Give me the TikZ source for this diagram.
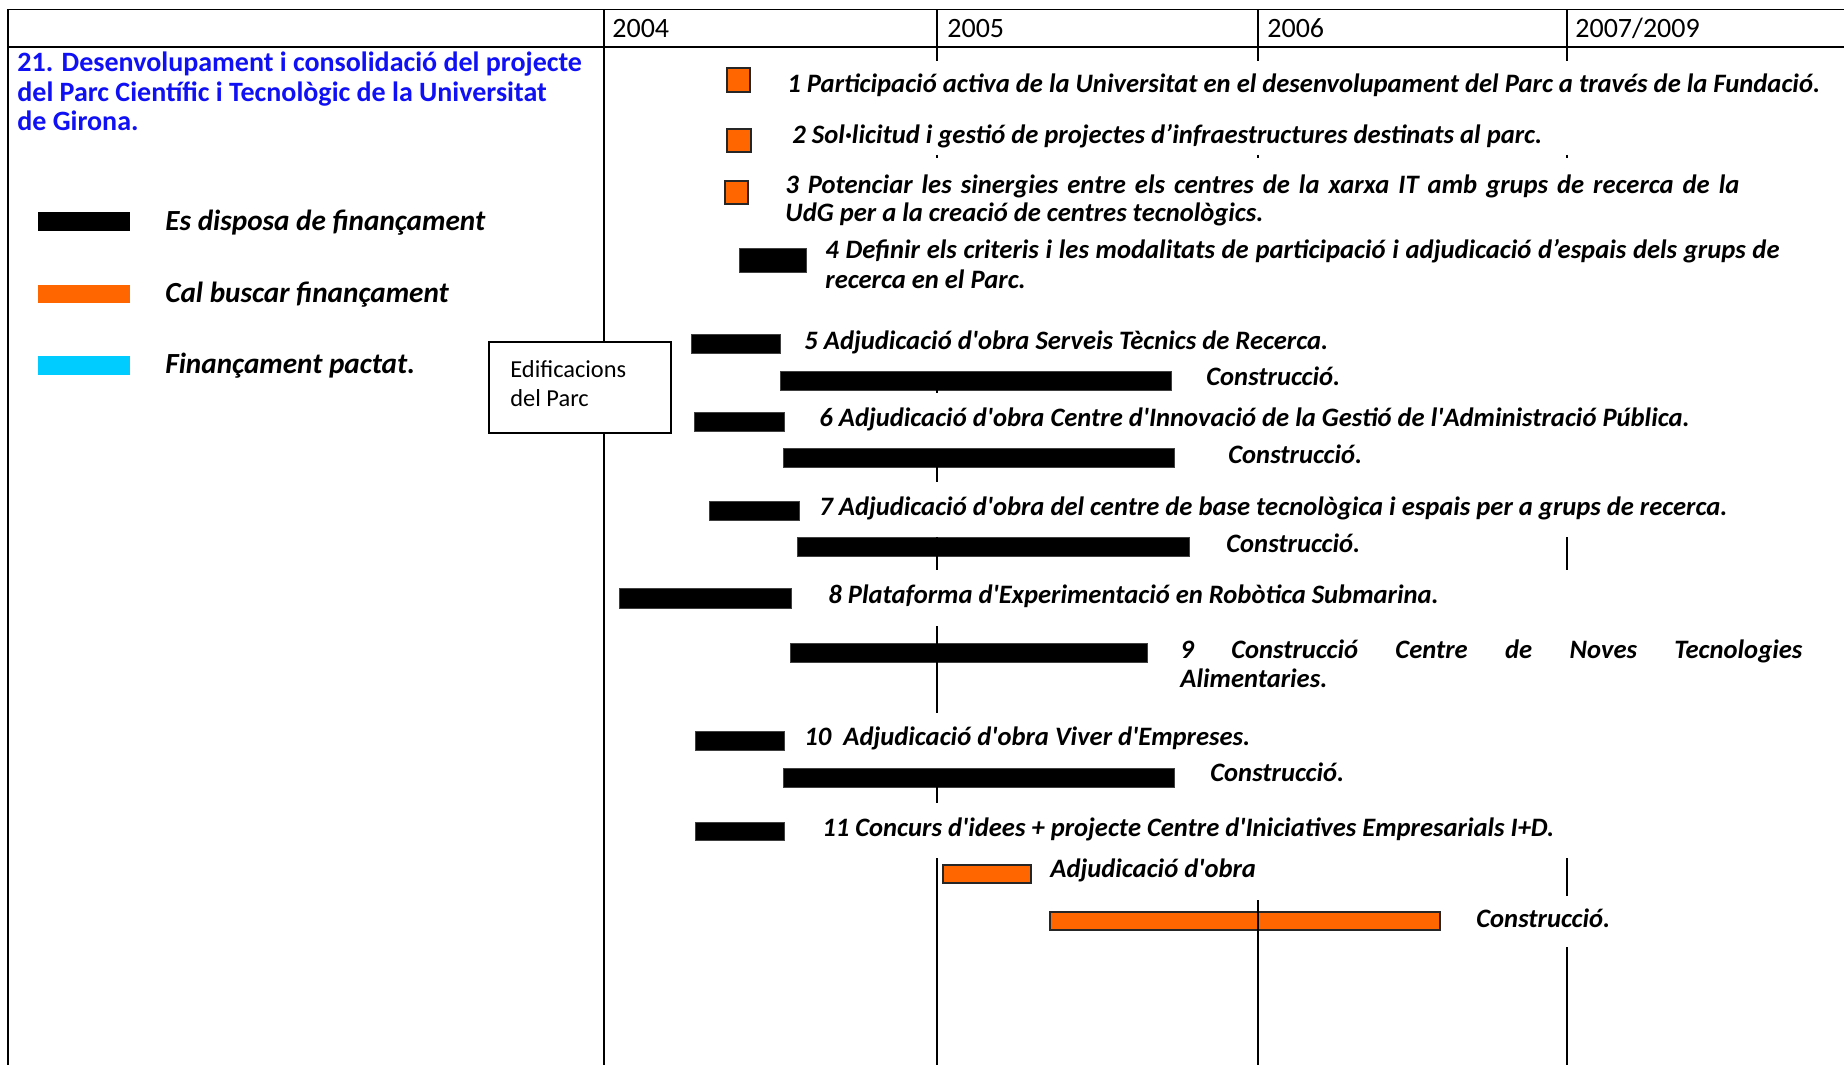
\documentclass[tikz,border=0pt]{standalone}
\usepackage{fontspec}
\setmainfont{Carlito}[Ligatures=TeXOff]
\definecolor{titleblue}{HTML}{1010F5}
\definecolor{fundorange}{HTML}{FF6600}
\definecolor{fundcyan}{HTML}{00CCFF}

\begin{document}
\begin{tikzpicture}[
  x=0.5pt,
  y=-0.5pt,
  rule/.style={draw=black,line width=0.75pt},
  headrule/.style={draw=black,line width=1.25pt},
  gridline/.style={draw=black,line width=0.6pt},
  blackbar/.style={fill=black,draw=black!75,line width=0.4pt},
  orangebar/.style={fill=fundorange,draw=black!85,line width=0.75pt},
  keybar/.style={draw=none},
  box/.style={fill=white,draw=black,line width=0.75pt},
  year/.style={anchor=base west,inner sep=0pt,font=\fontsize{14}{16}\selectfont},
  plain/.style={anchor=base west,inner sep=0pt,font=\fontsize{12.2}{14}\selectfont},
  title/.style={anchor=base west,inner sep=0pt,text=titleblue,font=\fontsize{14}{16}\selectfont\bfseries},
  lab/.style={anchor=base west,inner sep=0pt,font=\fontsize{13.3}{15}\selectfont\bfseries\itshape},
  keylab/.style={lab,font=\fontsize{14.6}{16}\selectfont\bfseries\itshape}
]
\useasboundingbox (0,0) rectangle (1844,1065);

% frame and header
\path[rule] (8,9.5) -- (1844,9.5);
\path[headrule] (8,47) -- (1844,47);
\path[rule] (8,9.5) -- (8,1065);
\path[rule] (604,9.5) -- (604,1065);
\node[year] (y2004) at (612,38) {2004};
\node[year] (y2005) at (947,38) {2005};
\node[year] (y2006) at (1267,38) {2006};
\node[year] (y2007) at (1575,38) {2007/2009};

% title and key
\node[title] (tit1) at (17,72) {21. Desenvolupament i consolidació del projecte};
\node[title] (tit2) at (17,101.5) {del Parc Científic i Tecnològic de la Universitat};
\node[title] (tit3) at (17,131) {de Girona.};
\path[keybar,fill=black] (38,212) rectangle (130,231);
\path[keybar,fill=fundorange] (38,285) rectangle (130,303);
\path[keybar,fill=fundcyan] (38,356) rectangle (130,375);
\node[keylab] (key1) at (165,230) {Es disposa de finançament};
\node[keylab] (key2) at (165,302) {Cal buscar finançament};
\node[keylab] (key3) at (165,373) {Finançament pactat.};

% building box
\path[box] (489,342) rectangle (671,433);
\node[plain] (edif1) at (510,377) {Edificacions};
\node[plain] (edif2) at (510,406) {del Parc};

% bars
\path[orangebar] (727,68) rectangle (750,92);
\path[orangebar] (727,129) rectangle (751,152);
\path[orangebar] (725,181) rectangle (748,204);
\path[blackbar] (739,248) rectangle (806,272);
\path[blackbar] (691,334) rectangle (780,353);
\path[blackbar] (780,371) rectangle (1171,390);
\path[blackbar] (694,412) rectangle (784,431);
\path[blackbar] (783,448) rectangle (1174,467);
\path[blackbar] (709,501) rectangle (799,520);
\path[blackbar] (797,537) rectangle (1189,556);
\path[blackbar] (619,588) rectangle (791,608);
\path[blackbar] (790,643) rectangle (1147,662);
\path[blackbar] (695,731) rectangle (784,750);
\path[blackbar] (783,768) rectangle (1174,787);
\path[blackbar] (695,822) rectangle (784,840);
\path[orangebar] (943,865) rectangle (1031,883);
\path[orangebar] (1050,912) rectangle (1440,930);

% year lines (only the parts left visible)
\foreach \x in {937,1258,1567} {
  \path[gridline] (\x,9.5) -- (\x,61);
  \path[gridline] (\x,155) -- (\x,158);
}
\foreach \a/\b in {372/393,467/482,537/570,626/713,787/803,858/1065}
  \path[gridline] (937,\a) -- (937,\b);
\path[gridline] (1258,900) -- (1258,1065);
\foreach \a/\b in {537/570,858/896,947/1065}
  \path[gridline] (1567,\a) -- (1567,\b);

% activities
\node[lab] (act1) at (787,93) {1 Participació activa de la Universitat en el desenvolupament del Parc a través de la Fundació.};
\node[lab] (act2) at (792,144) {2 Sol·licitud i gestió de projectes d’infraestructures destinats al parc.};
\node[lab] (act3a) at (785,193) {\makebox[477pt][s]{3 Potenciar les sinergies entre els centres de la xarxa IT amb grups de recerca de la}};
\node[lab] (act3b) at (785,221) {UdG per a la creació de centres tecnològics.};
\node[lab] (act4a) at (825,258) {\makebox[477pt][s]{4 Definir els criteris i les modalitats de participació i adjudicació d’espais dels grups de}};
\node[lab] (act4b) at (825,288) {recerca en el Parc.};
\node[lab] (act5) at (804,349) {5 Adjudicació d'obra Serveis Tècnics de Recerca.};
\node[lab] (con5) at (1206,385) {Construcció.};
\node[lab] (act6) at (819,426) {6 Adjudicació d'obra Centre d'Innovació de la Gestió de l'Administració Pública.};
\node[lab] (con6) at (1228,463) {Construcció.};
\node[lab] (act7) at (819,515) {7 Adjudicació d'obra del centre de base tecnològica i espais per a grups de recerca.};
\node[lab] (con7) at (1226,552) {Construcció.};
\node[lab] (act8) at (828,603) {8 Plataforma d'Experimentació en Robòtica Submarina.};
\node[lab] (act9a) at (1180,658) {\makebox[311pt][s]{9 Construcció Centre de Noves Tecnologies}};
\node[lab] (act9b) at (1180,687) {Alimentaries.};
\node[lab] (act10) at (804,745) {10\ \ Adjudicació d'obra Viver d'Empreses.};
\node[lab] (con10) at (1210,781) {Construcció.};
\node[lab] (act11) at (822,836) {11 Concurs d'idees + projecte Centre d'Iniciatives Empresarials I+D.};
\node[lab] (adj11) at (1050,877) {Adjudicació d'obra};
\node[lab] (con11) at (1476,927) {Construcció.};
\end{tikzpicture}
\end{document}
